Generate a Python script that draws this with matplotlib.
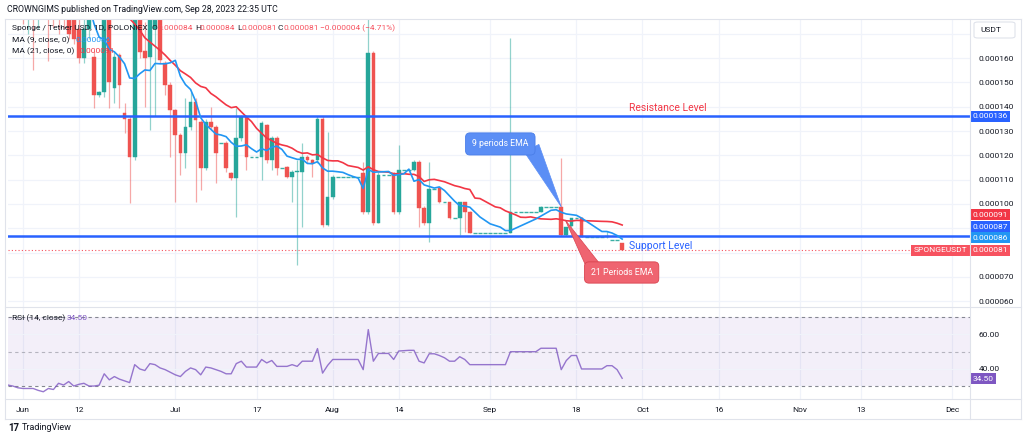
import matplotlib
matplotlib.use("Agg")
import matplotlib.pyplot as plt
import matplotlib.transforms as mtransforms
from matplotlib.patches import Polygon, Rectangle, FancyBboxPatch
from matplotlib.lines import Line2D
import numpy as np
import pandas as pd

plt.rcParams['font.family'] = ['Roboto', 'DejaVu Sans']

# ---------------- data (prices in units of 1e-6 USDT, daily candles) ----------------
U = 1e-6
first_day = -3          # day offset of the first candle relative to 2023-06-01

opens = [228, 232, 225, 230, 222, 226, 218, 224, 215, 212,
         195, 190, 185, 182, 172, 160, 172, 160.5, 145, 146,
         180, 147.7, 161.3, 137.4, 135, 119.3, 178, 163, 160.5, 172,
         178, 158, 149, 138.7, 128.4, 121, 131.7, 142, 133.7, 114.8,
         133.7, 131.7, 125, 125, 112.8, 110.7, 127.2, 135.8, 119.3, 119.3,
         119.3, 132.5, 118.1, 127.2, 114.8, 115.2, 111.1, 113, 113.2, 119.3,
         118.1, 118.1, 135, 91.4, 102.9, 111.1, 111.1, 111.1, 111.1, 111.1,
         112.8, 96.7, 162.1, 92.2, 112, 112, 112.8, 96.7, 114, 114,
         114, 117.3, 98.4, 92.2, 106.2, 106.6, 100.8, 100.8, 94.2, 94.2,
         100.8, 96.7, 88.1, 88.1, 88.1, 88.1, 88.1, 88.1, 88.1, 88.1,
         96.7, 96.7, 96.7, 96.7, 96.7, 96.7, 98.8, 98.8, 98.8, 98.8,
         87.2, 90.9, 94.2, 94.2, 86.4, 86.4, 86.4, 86.4, 86.4, 85,
         85, 84]
highs = [236, 240, 232, 238, 230, 232, 228, 230, 222, 216,
         200, 196, 190, 186, 176, 178, 186, 163, 146.5, 185,
         182, 163, 162, 141.6, 136, 185, 180, 175, 182, 185,
         182, 159, 150, 139, 129, 143.6, 146, 143.6, 134.5, 135,
         140, 132.5, 125, 126, 113, 139.5, 136.5, 136.5, 119.3, 119.3,
         134, 133, 128, 128, 114.8, 115.5, 114, 118, 125, 120,
         118.5, 136, 136, 129.6, 112, 111.1, 111.1, 111.1, 111.1, 111.1,
         117.3, 176.5, 163, 113, 112, 112, 113, 124.3, 114, 114,
         118, 118, 99, 117.3, 106.2, 107, 100.8, 101, 94.2, 101,
         101, 97, 88.1, 88.1, 88.1, 88.1, 88.1, 88.1, 88.1, 168.3,
         96.7, 96.7, 96.7, 96.7, 96.7, 99, 98.8, 98.8, 98.8, 118.9,
         90.5, 94.2, 94.2, 94.5, 86.4, 86.4, 86.4, 86.4, 89, 85,
         85, 84]
lows = [180, 176, 178, 174, 170, 155, 172, 178, 159, 173,
        170, 172, 168, 166, 158, 158, 168, 139.5, 144, 144,
        139.5, 141.6, 139.5, 129.2, 100.4, 118, 160, 140, 130.5, 136,
        158, 145, 119.3, 100.8, 112, 115, 130.5, 100.8, 105.8, 114,
        130.5, 108.6, 125, 113, 110, 94.7, 126, 114, 119.3, 119.3,
        110, 117, 114, 112, 114.8, 110.5, 100.8, 75, 90.5, 117,
        111, 117, 90.5, 91, 102, 111.1, 111.1, 111.1, 111.1, 111.1,
        96, 96, 91.4, 92, 112, 112, 96, 96, 114, 114,
        113.5, 90.5, 91.5, 84.4, 106.2, 100.5, 100.8, 94, 94.2, 87.2,
        88.5, 88, 88.1, 88.1, 88.1, 88.1, 88.1, 88.1, 88.1, 88,
        96.7, 96.7, 96.7, 96.7, 96.7, 96.5, 98.8, 98.8, 98.8, 87,
        87, 90.5, 94.2, 86.4, 86.4, 86.4, 86.4, 86.4, 86, 85,
        85, 81]
closes = [232, 225, 230, 222, 226, 218, 224, 215, 212, 195,
          190, 185, 170, 168, 160, 172, 182, 144.9, 146, 180,
          150, 160.5, 149, 135, 119.3, 180, 162.5, 160, 178, 176,
          159.3, 149, 138.7, 128.4, 121, 131.7, 142, 134.6, 114.8, 133.7,
          131.7, 121, 125, 114.8, 110.7, 127.2, 135.8, 119.3, 119.3, 119.3,
          133.3, 118.1, 127.2, 114.8, 114.8, 111.1, 113.2, 113.5, 119.3, 118.1,
          116.9, 135, 91.4, 102.9, 111.1, 111.1, 111.1, 111.1, 111.1, 111.1,
          96.7, 162.1, 92.2, 112, 112, 112, 96.7, 114, 114, 114,
          117.3, 98.4, 92.2, 106.2, 106.2, 100.8, 100.8, 94.2, 94.2, 100.8,
          96.7, 88.1, 88.1, 88.1, 88.1, 88.1, 88.1, 88.1, 88.1, 96.7,
          96.7, 96.7, 96.7, 96.7, 96.7, 98.8, 98.8, 98.8, 98.8, 87.2,
          90.5, 94.2, 94.2, 86.4, 86.4, 86.4, 86.4, 86.4, 87, 85,
          85, 81]
rsi_values = [30.6, 30, 29, 28.6, 28.6, 28.6, 27.5, 26.7, 28.6, 28,
              31.6, 30.6, 32.6, 30, 31, 31.6, 30, 30, 30.5, 37.1,
              33.6, 35.5, 34, 33, 32, 42.4, 39.9, 39, 43, 42.4,
              40.5, 39.5, 38, 36.5, 35.5, 38.5, 40.5, 39.5, 36.5, 41,
              40.5, 39.5, 38.5, 37.1, 37.1, 43, 44.4, 41, 41, 41,
              45.4, 43.4, 44.8, 41.4, 41.4, 41.4, 42.4, 41.4, 44.4, 44.4,
              44.4, 51.7, 37.5, 42, 45.4, 45.4, 45.4, 45.4, 45.4, 45.4,
              39.5, 62.7, 44.4, 48.9, 48.9, 48.9, 45.4, 50.3, 50.5, 50.7,
              50.7, 44.4, 43.4, 48.7, 48.7, 47.7, 46.4, 44.4, 44.4, 47,
              45.4, 42.4, 42.4, 42.4, 42.4, 42.4, 42.4, 42.4, 42.4, 49.9,
              49.9, 49.9, 49.9, 49.9, 49.9, 51.9, 51.9, 51.9, 51.9, 39.5,
              44.8, 47.7, 47.7, 39.9, 39.9, 39.9, 39.9, 39.9, 41.8, 41.8,
              39.5, 34.5]

resistance_level = 136
support_level = 87
last_price = 81
tick_days = [0, 11, 30, 46, 61, 74, 92, 109, 122, 137, 153, 165, 183]
tick_labels = ["Jun", "12", "Jul", "17", "Aug", "14", "Sep", "18", "Oct", "16", "Nov", "13", "Dec"]
price_ticks = [60, 70, 100, 110, 120, 130, 140, 150, 160]
grid_prices = [60, 70, 80, 90, 100, 110, 120, 130, 140, 150, 160, 170]

# ---------------- derived ----------------
days = np.arange(first_day, first_day + len(closes))
o = np.array(opens) * U
h = np.array(highs) * U
l = np.array(lows) * U
c = np.array(closes) * U
ma9 = pd.Series(c).rolling(9).mean().values
ma21 = pd.Series(c).rolling(21).mean().values

UP = '#26a69a'
DN = '#ef5350'
GRID = '#f0f3fa'
BORDER = '#e0e3eb'
TXT = '#131722'

W, H = 1024, 443
fig = plt.figure(figsize=(W / 100, H / 100), dpi=100)
fig.patch.set_facecolor('white')

def fx(x):
    return x / W

def fy(y):
    return 1 - y / H

ax = fig.add_axes([fx(8), fy(307), (970 - 8) / W, (307 - 20) / H])
ax2 = fig.add_axes([fx(8), fy(399), (970 - 8) / W, (399 - 307) / H], sharex=ax)

XMIN, XMAX = -2.95, 186.5
ax.set_xlim(XMIN, XMAX)
ax.set_ylim(57.6 * U, 175.7 * U)
ax2.set_ylim(22.5, 75.8)

for a in (ax, ax2):
    for s in a.spines.values():
        s.set_visible(False)
    for d in tick_days:
        a.axvline(d, color=GRID, lw=0.9, zorder=0)

for p in grid_prices:
    ax.axhline(p * U, color=GRID, lw=0.9, zorder=0)

# candles
for d, op, hi, lo, cl in zip(days, o, h, l, c):
    if hi == lo:
        ax.hlines(cl, d - 0.38, d + 0.38, color=UP, lw=1.0, alpha=0.9, zorder=3)
        continue
    col = UP if cl >= op else DN
    ax.vlines(d, lo, hi, color=col, lw=0.9, alpha=0.5, zorder=2)
    ax.add_patch(Rectangle((d - 0.36, min(op, cl)), 0.72, max(abs(cl - op), 0.4 * U),
                           fc=col, ec=col, lw=0.3, zorder=3))

ax.plot(days, ma21, color='#f23645', lw=1.2, zorder=4)
ax.plot(days, ma9, color='#2196f3', lw=1.2, zorder=5)

ax.axhline(resistance_level * U, color='#2962ff', lw=1.8, zorder=4)
ax.axhline(support_level * U, color='#2962ff', lw=1.8, zorder=4)
ax.axhline(last_price * U, color='#f7525f', lw=0.8, ls=(0, (1, 2)), zorder=4)

# annotations
ax.text(119.4, 139.5 * U, "Resistance Level", color='#f23645', fontsize=7.5, va='center', ha='left', zorder=6)
ax.text(119.4, 82.7 * U, "Support Level", color='#2962ff', fontsize=7.5, va='center', ha='left', zorder=6)

ax.add_patch(Polygon([(98.7, 121.5 * U), (101.6, 124.5 * U), (106.0, 98.8 * U)],
                     closed=True, fc='#5b8ef5', ec='#5b8ef5', lw=0.5, zorder=7))
ax.text(94.0, 124.7 * U, "9 periods EMA", color='white', fontsize=6.3, ha='center', va='center', zorder=8,
        bbox=dict(boxstyle='round,pad=0.75,rounding_size=0.5', fc='#5b8ef5', ec='#4a7ee8', lw=0.6))

ax.add_patch(Polygon([(110.7, 75.2 * U), (113.5, 75.6 * U), (106.8, 93.4 * U)],
                     closed=True, fc='#ef6470', ec='#d9434f', lw=0.5, zorder=7))
ax.text(117.9, 71.8 * U, "21 Periods EMA", color='white', fontsize=6.3, ha='center', va='center', zorder=8,
        bbox=dict(boxstyle='round,pad=0.7,rounding_size=0.5', fc='#ef6470', ec='#d9434f', lw=0.6))

# price axis (right)
ax.yaxis.tick_right()
ax.set_yticks([p * U for p in price_ticks])
ax.yaxis.set_major_formatter(matplotlib.ticker.FuncFormatter(lambda v, pos: f"{v:.6f}"))
ax.tick_params(axis='y', length=0, pad=6, labelsize=6, labelcolor=TXT)
ax.tick_params(axis='x', length=0, labelbottom=False)

trans = mtransforms.blended_transform_factory(ax.transAxes, ax.transData)
def price_tag(yval, text, color):
    ax.text(1.0 + 2.5 / 962, yval, text, transform=trans, ha='left', va='center', color='white',
            fontsize=6, zorder=9, clip_on=False,
            bbox=dict(boxstyle='square,pad=0.3', fc=color, ec='none'))

price_tag(resistance_level * U, f"{resistance_level * U:.6f}", '#2962ff')
price_tag(95.5 * U, f"{ma21[-1]:.6f}", '#f23645')
price_tag(90.6 * U, f"{support_level * U:.6f}", '#2962ff')
price_tag(86.0 * U, f"{ma9[-1]:.6f}", '#2196f3')
price_tag(81.0 * U, f"{last_price * U:.6f}", '#f7525f')
ax.text(1.0 - 2.5 / 962, 81.0 * U, "SPONGEUSDT", transform=trans, ha='right', va='center', color='white',
        fontsize=6, zorder=9, clip_on=False, bbox=dict(boxstyle='square,pad=0.3', fc='#f7525f', ec='none'))

# RSI pane
ax2.axhspan(30, 70, color='#7e57c2', alpha=0.09, lw=0, zorder=0)
for lev, al in ((70, 0.9), (50, 0.5), (30, 0.9)):
    ax2.axhline(lev, color='#787b86', lw=0.8, ls=(0, (3, 3)), alpha=al, zorder=1)
for lev in (40, 60):
    ax2.axhline(lev, color=GRID, lw=0.8, zorder=0)
ax2.plot(days, rsi_values, color='#7e57c2', lw=1.0, alpha=0.8, zorder=3)
ax2.yaxis.tick_right()
ax2.set_yticks([40, 60])
ax2.set_yticklabels(["40.00", "60.00"])
ax2.tick_params(axis='y', length=0, pad=6, labelsize=6, labelcolor=TXT)
ax2.set_xticks(tick_days)
ax2.set_xticklabels(tick_labels)
ax2.tick_params(axis='x', length=0, pad=6, labelsize=6, labelcolor=TXT)
ax2.text(1.0 + 2.5 / 962, rsi_values[-1] - 0.3, f"{rsi_values[-1]:.2f}",
         transform=mtransforms.blended_transform_factory(ax2.transAxes, ax2.transData),
         ha='left', va='center', color='white', fontsize=6, clip_on=False, zorder=9,
         bbox=dict(boxstyle='square,pad=0.3', fc='#7e57c2', ec='none'))

# frame lines
def hline_px(y, x0, x1):
    fig.add_artist(Line2D([fx(x0), fx(x1)], [fy(y), fy(y)], color=BORDER, lw=0.8))
def vline_px(x, y0, y1):
    fig.add_artist(Line2D([fx(x), fx(x)], [fy(y0), fy(y1)], color=BORDER, lw=0.8))

hline_px(19, 5, 1021)
hline_px(307, 5, 1021)
hline_px(399, 5, 1021)
hline_px(419, 5, 1021)
vline_px(5, 19, 419)
vline_px(970, 19, 419)
vline_px(1021, 19, 419)
fig.add_artist(FancyBboxPatch((fx(974), fy(38)), fx(41), 16 / H,
                              boxstyle='round,pad=0,rounding_size=0.004', fc='white', ec=BORDER, lw=0.8))
fig.text(fx(980), fy(30), "USDT", fontsize=6, color=TXT, va='center', ha='left')

# header texts
def T(x, y, s, color=TXT, size=6, **kw):
    fig.text(fx(x), fy(y), s, color=color, fontsize=size, va='center', ha='left', **kw)

T(7, 9, "CROWNGIMS published on TradingView.com, Sep 28, 2023 22:35 UTC", size=6.3)
RED = '#f7525f'
T(12, 28, "Sponge / Tether USD, 1D, POLONIEX")
T(152, 28, "O")
T(158, 28, "0.000084", RED)
T(195, 28, "H")
T(200, 28, "0.000084", RED)
T(237, 28, "L")
T(242, 28, "0.000081", RED)
T(278, 28, "C")
T(283, 28, "0.000081", RED)
T(320, 28, "\u22120.000004 (\u22124.71%)", RED)
T(12, 40, "MA (9, close, 0)")
T(76, 40, f"{ma9[-1]:.6f}", '#2196f3')
T(12, 51, "MA (21, close, 0)")
T(80, 51, f"{ma21[-1]:.6f}", '#f23645')
T(12, 318, "RSI (14, close)")
T(67, 318, f"{rsi_values[-1]:.2f}", '#7e57c2')

T(8, 428, "17", size=7, weight='bold')
T(22, 428, "TradingView", size=6.5)

fig.savefig("out.png", dpi=100, facecolor='white')
